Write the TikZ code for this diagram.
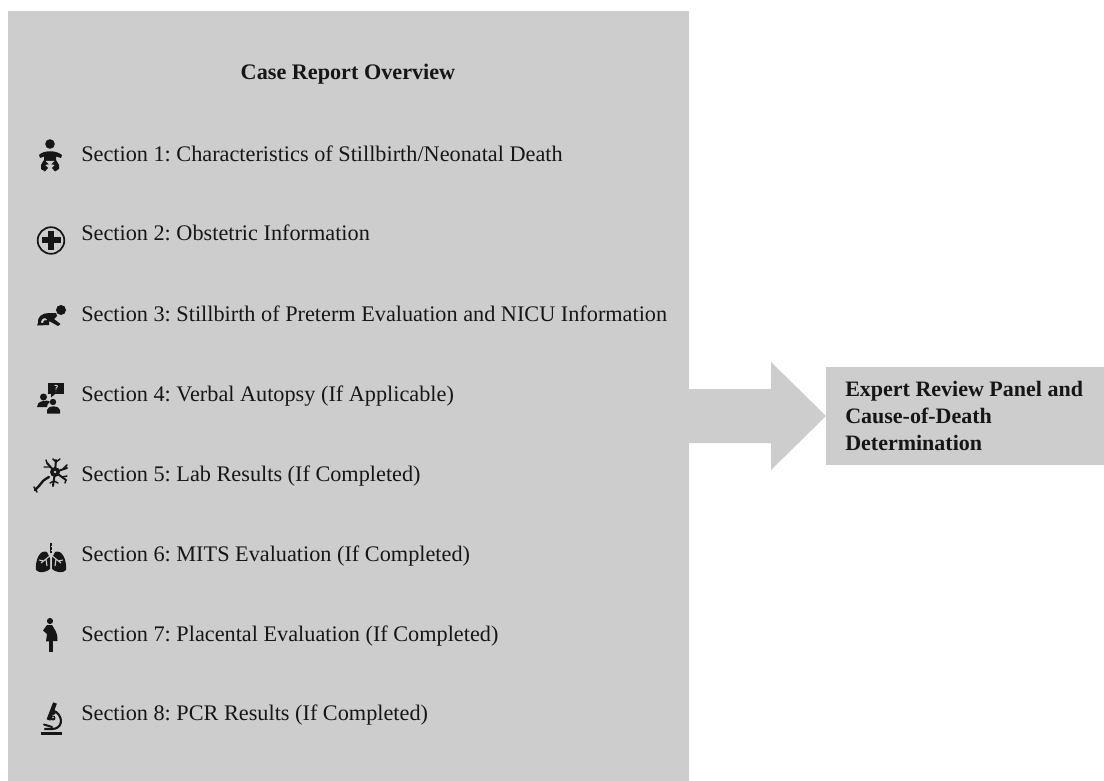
\documentclass[tikz,border=0pt]{standalone}
\usepackage{fontspec}
\setmainfont{Liberation Serif}
\definecolor{panelgrey}{RGB}{205,205,205}
\definecolor{ink}{RGB}{22,22,22}
\tikzset{
  x=0.75pt,y=-0.75pt,
  sectionlabel/.style={anchor=base west,inner sep=0pt,font=\frenchspacing\fontsize{16.69}{19}\selectfont,text=ink},
  headlabel/.style={anchor=base,inner sep=0pt,font=\fontsize{16.65}{19}\selectfont\bfseries,text=ink}
}
\begin{document}
\begin{tikzpicture}
\useasboundingbox (0,0) rectangle (1104,781);
\fill[white] (0,0) rectangle (1104,781);
% panel
\fill[panelgrey] (8,11.5) rectangle (689,781);
% result box and arrow
\fill[panelgrey] (826,367) rectangle (1104,465);
\fill[panelgrey] (689,389) -- (771,389) -- (771,362) -- (826,416) -- (771,470) -- (771,443) -- (689,443) -- cycle;
\node[headlabel] (head) at (348,80) {Case Report Overview};
\node[sectionlabel] (s1) at (81,161.5) {Section 1: Characteristics of Stillbirth/Neonatal Death};
\node[sectionlabel] (s2) at (81,241) {Section 2: Obstetric Information};
\node[sectionlabel] (s3) at (81,321) {Section 3: Stillbirth of Preterm Evaluation and NICU Information};
\node[sectionlabel] (s4) at (81,401) {Section 4: Verbal Autopsy (If Applicable)};
\node[sectionlabel] (s5) at (81,481) {Section 5: Lab Results (If Completed)};
\node[sectionlabel] (s6) at (81,561) {Section 6: MITS Evaluation (If Completed)};
\node[sectionlabel] (s7) at (81,641) {Section 7: Placental Evaluation (If Completed)};
\node[sectionlabel] (s8) at (81,720.5) {Section 8: PCR Results (If Completed)};
\node[anchor=base west,inner sep=0pt,align=left,font=\fontsize{16.5}{19.9}\selectfont\bfseries,text=ink] (result) at (845,450) {Expert Review Panel and\\Cause-of-Death\\Determination};
% icon 1 baby
\fill[ink] (50,144) circle (4.8);
\fill[ink] (39,155) .. controls (44,150) and (56,150) .. (62,155) -- (61,158) -- (56,156.5) -- (56,160) -- (44,160) -- (44,156.5) -- (40,158) -- cycle;
\fill[ink] (44,160) -- (56,160) -- (59,165) -- (59,169) -- (55,171.5) -- (52,168) -- (55,165) -- (50,164) -- (45,165) -- (48,168) -- (45,171.5) -- (41,169) -- (41,165) -- cycle;
\fill[panelgrey] (45.5,161) -- (54.5,161) -- (50,165.5) -- cycle;
% icon 2 cross
\draw[ink,line width=1.3] (51,240.5) circle (13.3);
\fill[ink] (48,231) rectangle (54,250);
\fill[ink] (41.5,237.5) rectangle (60.5,243.5);
% icon 3 crawling
\fill[ink] (61,310) circle (5);
\fill[ink] (38,323) .. controls (37,317) and (42,313) .. (49,313) -- (56,313) -- (57,316) -- (54,319) -- (60.5,324) -- (58,326) -- (49,321) -- (49,325) -- (37,325.5) -- cycle;
\fill[panelgrey] (41,322.5) .. controls (41,318) and (46,317) .. (47,320) .. controls (44,319.5) and (43,321) .. (43,323) -- cycle;
% icon 4 verbal autopsy
\fill[ink] (48,383) rectangle (64,394);
\fill[ink] (51,394) -- (55,394) -- (51,397.5) -- cycle;
\draw[panelgrey,line width=0.7] (54.5,385.5) .. controls (57.5,384.5) and (58.5,387) .. (56,388) -- (56,390) (56,391.5) -- (56,392.2);
\fill[ink] (43.5,397) circle (3.5);
\fill[ink] (37,407) .. controls (36,401) and (48,399) .. (50,402) .. controls (48,403) and (47,405) .. (47,407) -- cycle;
\fill[ink] (53,402) circle (3.2);
\fill[ink] (47,413.5) -- (47,410) .. controls (48,405) and (59,405) .. (60,410) -- (60,413.5) -- cycle;
% icon 5 neuron
\fill[ink] (55,472) circle (5);
\draw[ink,line width=1.5,line cap=round] (55,472) -- (47,463) (55,472) -- (56,460) (55,472) -- (67,468) (55,472) -- (66,480) (55,472) -- (53,486);
\draw[ink,line width=1.1,line cap=round] (50,467)--(44,467) (47,463)--(46,460) (56,462)--(53,459) (56,462)--(60,459) (63,469)--(67,465) (62,477)--(67,476) (66,480)--(65,483) (54,481)--(50,483) (54,481)--(58,483);
\draw[ink,line width=1.8,line cap=round] (49,477) .. controls (47,480) and (44,478) .. (43,481) .. controls (42,484) and (40,483) .. (39,486) .. controls (38,488) and (36,488) .. (35,490);
\draw[ink,line width=1.2,line cap=round] (34,487)--(37,492);
\fill[panelgrey] (55,472) circle (1.4);
% icon 6 lungs
\fill[ink] (47,552) .. controls (40,549) and (35,560) .. (36,570) .. controls (39,574) and (47,572) .. (50,569) -- (50,558) -- cycle;
\fill[ink] (55,552) .. controls (62,549) and (67,560) .. (66,570) .. controls (63,574) and (55,572) .. (52,569) -- (52,558) -- cycle;
\draw[ink,line width=2.2] (51,543) -- (51,553);
\draw[panelgrey,line width=0.7] (51,545.5) -- (51,547) (51,549.5)--(51,551);
\draw[panelgrey,line width=0.8] (51,555) -- (41,563) (51,555) -- (61,563) (46,559) -- (47,566) (56,559) -- (55,566) (44,561) -- (39,560) (58,561) -- (63,560);
% icon 7 pregnant
\fill[ink] (50,621) circle (3.1);
\fill[ink] (47,625) -- (52,625) .. controls (54,629) and (58,632) .. (57.5,641) -- (46,641.5) -- (47,634) -- (43,630.5) -- cycle;
\fill[ink] (49,640) rectangle (53,652);
% icon 8 microscope
\fill[ink] (40.5,731.5) rectangle (62,735);
\draw[ink,line width=3,line cap=butt] (55,703) -- (48.5,720);
\fill[ink] (53,712) circle (3);
\draw[ink,line width=1.6,line cap=round] (56,712) .. controls (64,718) and (62,729) .. (52,729) -- (45,729);
\draw[ink,line width=1.5,line cap=round] (44,724.5) -- (52,727);
\fill[ink] (53,718) circle (2.5);
\fill[panelgrey] (53,717.5) circle (0.8);
\end{tikzpicture}
\end{document}
